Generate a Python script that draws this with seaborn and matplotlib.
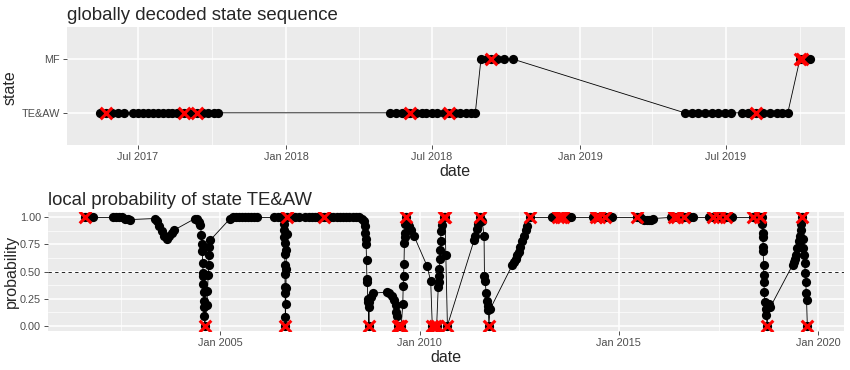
import numpy as np
import pandas as pd
import matplotlib
matplotlib.use("Agg")
import matplotlib.pyplot as plt
import matplotlib.dates as mdates
from matplotlib.ticker import FixedLocator, NullLocator
import seaborn as sns

# globally decoded state sequence (2017-2019)
state_dates = [
    "2017-05-15", "2017-05-22", "2017-05-30", "2017-06-06", "2017-06-14",
    "2017-06-25", "2017-07-01", "2017-07-07", "2017-07-13", "2017-07-20",
    "2017-07-26", "2017-08-01", "2017-08-08", "2017-08-13", "2017-08-19",
    "2017-08-27", "2017-09-03", "2017-09-12", "2017-09-20", "2017-09-26",
    "2017-10-03", "2017-10-08",
    "2018-05-10", "2018-05-17", "2018-05-25", "2018-06-01", "2018-06-04",
    "2018-06-11", "2018-06-19", "2018-06-24", "2018-07-01", "2018-07-08",
    "2018-07-16", "2018-07-22", "2018-07-30", "2018-08-05", "2018-08-13",
    "2018-08-19", "2018-08-24",
    "2018-08-31", "2018-09-07", "2018-09-13", "2018-09-20", "2018-09-28",
    "2018-10-10",
    "2019-05-11", "2019-05-20", "2019-05-27", "2019-06-05", "2019-06-14",
    "2019-06-21", "2019-06-30", "2019-07-08", "2019-07-21", "2019-07-28",
    "2019-08-08", "2019-08-16", "2019-08-25", "2019-09-02", "2019-09-09",
    "2019-09-16",
    "2019-10-01", "2019-10-04", "2019-10-08", "2019-10-14",
]
state_labels = (["TE&AW"] * 22 + ["TE&AW"] * 17 + ["MF"] * 6
                + ["TE&AW"] * 16 + ["MF"] * 4)
state_flag_dates = ["2017-05-22", "2017-08-27", "2017-09-12", "2018-06-04",
                    "2018-07-22", "2018-09-13", "2019-08-08", "2019-10-01",
                    "2019-10-04"]
state_flag_labels = ["TE&AW", "TE&AW", "TE&AW", "TE&AW", "TE&AW", "MF",
                     "TE&AW", "MF", "MF"]

# local probability of state TE&AW (decimal years)
prob_years = [
    2001.61, 2001.70, 2001.82, 2002.31, 2002.39, 2002.46, 2002.54, 2002.61,
    2002.69, 2002.74, 2003.37, 2003.41, 2003.47, 2003.53, 2003.59, 2003.66,
    2003.72, 2003.79, 2003.83, 2004.37, 2004.42, 2004.47, 2004.50, 2004.53,
    2004.54, 2004.55, 2004.56, 2004.57, 2004.575, 2004.58, 2004.585, 2004.59,
    2004.595, 2004.60, 2004.61, 2004.665, 2004.68, 2004.70, 2004.71, 2004.72,
    2004.73, 2004.75, 2005.25, 2005.33, 2005.40, 2005.48, 2005.55, 2005.63,
    2005.70, 2005.78, 2005.85, 2005.92, 2006.34, 2006.46, 2006.53, 2006.59,
    2006.60, 2006.605, 2006.61, 2006.615, 2006.62, 2006.622, 2006.625,
    2006.627, 2006.63, 2006.632, 2006.635, 2006.645, 2006.65, 2006.655,
    2006.66, 2006.665, 2006.68, 2006.88, 2006.98, 2007.14, 2007.22, 2007.30,
    2007.38, 2007.46, 2007.53, 2007.60, 2007.68, 2007.76, 2007.84, 2007.92,
    2008.00, 2008.08, 2008.16, 2008.24, 2008.32, 2008.40, 2008.48, 2008.55,
    2008.60, 2008.63, 2008.64, 2008.65, 2008.66, 2008.67, 2008.68, 2008.69,
    2008.70, 2008.71, 2008.72, 2008.73, 2008.74, 2008.77, 2008.84, 2009.19,
    2009.23, 2009.30, 2009.36, 2009.40, 2009.42, 2009.44, 2009.46, 2009.50,
    2009.54, 2009.58, 2009.59, 2009.60, 2009.61, 2009.62, 2009.63, 2009.64,
    2009.645, 2009.65, 2009.69, 2009.74, 2009.78, 2009.86, 2010.19, 2010.28,
    2010.32, 2010.38, 2010.43, 2010.47, 2010.48, 2010.49, 2010.50, 2010.51,
    2010.52, 2010.53, 2010.54, 2010.56, 2010.61, 2010.64, 2010.66, 2010.70,
    2011.37, 2011.40, 2011.44, 2011.48, 2011.53, 2011.57, 2011.62, 2011.63,
    2011.65, 2011.67, 2011.69, 2011.71, 2011.73, 2011.74, 2011.77, 2012.33,
    2012.37, 2012.41, 2012.45, 2012.49, 2012.53, 2012.57, 2012.62, 2012.66,
    2012.70, 2012.77, 2013.33, 2013.40, 2013.47, 2013.54, 2013.61, 2013.68,
    2013.75, 2013.81, 2014.34, 2014.42, 2014.50, 2014.58, 2014.66, 2014.74,
    2014.84, 2015.45, 2015.52, 2015.58, 2015.64, 2015.70, 2015.76, 2015.82,
    2015.85, 2016.31, 2016.39, 2016.47, 2016.55, 2016.63, 2016.71, 2016.79,
    2016.85, 2017.27, 2017.35, 2017.43, 2017.51, 2017.59, 2017.69, 2017.77,
    2017.85, 2018.36, 2018.42, 2018.48, 2018.53, 2018.58, 2018.60, 2018.61,
    2018.615, 2018.62, 2018.625, 2018.63, 2018.635, 2018.64, 2018.65, 2018.66,
    2018.68, 2018.70, 2018.72, 2018.76, 2018.80, 2019.36, 2019.39, 2019.42,
    2019.45, 2019.48, 2019.51, 2019.54, 2019.56, 2019.58, 2019.59, 2019.61,
    2019.63, 2019.65, 2019.66, 2019.68, 2019.69, 2019.70, 2019.71, 2019.73,
]
prob_values = [
    1.00, 1.00, 1.00, 1.00, 1.00, 1.00, 1.00, 0.99,
    0.985, 0.98, 0.99, 0.97, 0.92, 0.87, 0.83, 0.80,
    0.83, 0.86, 0.88, 0.99, 0.99, 0.96, 0.93, 0.84,
    0.75, 0.69, 0.58, 0.49, 0.46, 0.38, 0.31, 0.23,
    0.17, 0.09, 0.00, 0.19, 0.32, 0.47, 0.56, 0.65,
    0.73, 0.79, 0.99, 1.00, 1.00, 1.00, 1.00, 1.00,
    1.00, 1.00, 1.00, 1.00, 1.00, 1.00, 1.00, 0.99,
    0.94, 0.88, 0.82, 0.76, 0.66, 0.56, 0.48,
    0.36, 0.30, 0.08, 0.00, 0.20, 0.35, 0.52,
    0.70, 0.85, 1.00, 1.00, 1.00, 1.00, 1.00, 1.00,
    1.00, 1.00, 1.00, 1.00, 1.00, 1.00, 1.00, 1.00,
    1.00, 1.00, 1.00, 1.00, 1.00, 1.00, 1.00, 0.99,
    0.97, 0.92, 0.86, 0.80, 0.75, 0.61, 0.43, 0.40,
    0.25, 0.22, 0.17, 0.00, 0.22, 0.26, 0.30, 0.31,
    0.30, 0.27, 0.24, 0.19, 0.13, 0.09, 0.00, 0.00,
    0.00, 0.20, 0.37, 0.46, 0.57, 0.76, 0.82, 0.86,
    0.94, 1.00, 0.95, 0.92, 0.88, 0.83, 0.55, 0.41,
    0.00, 0.00, 0.00, 0.36, 0.40, 0.46, 0.52, 0.62,
    0.70, 0.78, 0.87, 0.93, 1.00, 1.00, 0.65, 0.00,
    0.79, 0.83, 0.89, 0.94, 1.00, 0.97, 0.83, 0.46,
    0.41, 0.30, 0.23, 0.18, 0.14, 0.00, 0.15, 0.56,
    0.59, 0.62, 0.65, 0.68, 0.73, 0.78, 0.83, 0.88,
    0.92, 1.00, 1.00, 1.00, 1.00, 1.00, 1.00, 1.00,
    1.00, 1.00, 1.00, 1.00, 1.00, 1.00, 1.00, 1.00,
    1.00, 1.00, 1.00, 0.99, 0.98, 0.98, 0.98, 0.98,
    0.99, 1.00, 1.00, 1.00, 1.00, 1.00, 1.00, 1.00,
    1.00, 1.00, 1.00, 1.00, 1.00, 1.00, 1.00, 1.00,
    1.00, 1.00, 1.00, 1.00, 1.00, 1.00, 0.94, 0.86,
    0.82, 0.73, 0.69, 0.56, 0.47, 0.40, 0.31, 0.22,
    0.15, 0.10, 0.00, 0.20, 0.17, 0.56, 0.59, 0.62,
    0.65, 0.72, 0.78, 0.83, 0.88, 0.94, 1.00, 0.80,
    0.72, 0.65, 0.58, 0.49, 0.40, 0.30, 0.24, 0.00,
]
prob_flag_years = [
    2001.61, 2004.61, 2006.635, 2006.68, 2007.60, 2008.73, 2009.46, 2009.50,
    2009.54, 2009.65, 2010.32, 2010.38, 2010.43, 2010.61, 2010.64, 2010.70,
    2011.53, 2011.74, 2012.77, 2013.47, 2013.54, 2013.61, 2014.42, 2014.50,
    2014.66, 2015.45, 2016.39, 2016.47, 2016.63, 2017.35, 2017.51, 2017.69,
    2018.36, 2018.53, 2018.72, 2019.59, 2019.73,
]
prob_flag_values = [
    1.0, 0.0, 0.0, 1.0, 1.0, 0.0, 0.0, 0.0,
    0.0, 1.0, 0.0, 0.0, 0.0, 1.0, 1.0, 0.0,
    1.0, 0.0, 1.0, 1.0, 1.0, 1.0, 1.0, 1.0,
    1.0, 1.0, 1.0, 1.0, 1.0, 1.0, 1.0, 1.0,
    1.0, 1.0, 0.0, 1.0, 0.0,
]


def dec_to_date(y):
    yr = int(y)
    start = pd.Timestamp(year=yr, month=1, day=1)
    end = pd.Timestamp(year=yr + 1, month=1, day=1)
    return start + (end - start) * (y - yr)


sns.set_theme(style="darkgrid", rc={
    "axes.facecolor": "#EBEBEB",
    "grid.color": "white",
    "axes.edgecolor": "none",
})
plt.rcParams["font.family"] = ["Liberation Sans", "DejaVu Sans"]

cats = ["TE&AW", "MF"]
state_df = pd.DataFrame({
    "date": pd.to_datetime(state_dates),
    "state": pd.Categorical(state_labels, categories=cats),
})
state_flags = pd.DataFrame({
    "date": pd.to_datetime(state_flag_dates),
    "state": pd.Categorical(state_flag_labels, categories=cats),
})
prob_df = pd.DataFrame({
    "date": [dec_to_date(y) for y in prob_years],
    "prob": prob_values,
})
prob_flags = pd.DataFrame({
    "date": [dec_to_date(y) for y in prob_flag_years],
    "prob": prob_flag_values,
})

DOT = 44
CROSS = 70

fig = plt.figure(figsize=(8.5, 3.7), dpi=100)
ax1 = fig.add_axes([0.0788, 0.6081, 0.9153, 0.3189])
ax2 = fig.add_axes([0.0565, 0.1054, 0.9365, 0.3216])

# top panel
sns.lineplot(data=state_df, x="date", y="state", sort=False, estimator=None,
             color="black", lw=0.6, ax=ax1)
sns.scatterplot(data=state_df, x="date", y="state", color="black", s=DOT,
                linewidth=0, ax=ax1, zorder=3)
sns.scatterplot(data=state_flags, x="date", y="state", marker="x", color="red",
                s=CROSS, linewidth=2.2, ax=ax1, zorder=4)
ax1.set_ylim(-0.6, 1.6)
ax1.set_yticks([0, 1], labels=cats)
ax1.yaxis.set_minor_locator(NullLocator())
ax1.set_xlim(pd.Timestamp("2017-04-04"), pd.Timestamp("2019-11-26"))
ax1.xaxis.set_major_locator(mdates.MonthLocator(bymonth=[1, 7]))
ax1.xaxis.set_minor_locator(mdates.MonthLocator(bymonth=[4, 10]))
ax1.xaxis.set_major_formatter(mdates.DateFormatter("%b %Y"))
ax1.set_title("globally decoded state sequence", loc="left", fontsize=13.4, pad=5)
ax1.set_xlabel("date", fontsize=11.5)
ax1.set_ylabel("state", fontsize=11.5)
ax1.xaxis.set_label_coords(0.499, -0.16)
ax1.yaxis.set_label_coords(-0.064, 0.49)

# bottom panel
ax2.axhline(0.5, color="black", lw=0.6, ls=(0, (4, 4)), zorder=2)
sns.lineplot(data=prob_df, x="date", y="prob", sort=False, estimator=None,
             color="black", lw=0.6, ax=ax2)
sns.scatterplot(data=prob_df, x="date", y="prob", color="black", s=DOT,
                linewidth=0, ax=ax2, zorder=3)
sns.scatterplot(data=prob_flags, x="date", y="prob", marker="x", color="red",
                s=CROSS, linewidth=2.2, ax=ax2, zorder=4)
ax2.set_ylim(-0.05, 1.05)
ax2.set_yticks([0, 0.25, 0.5, 0.75, 1.0],
               labels=["0.00", "0.25", "0.50", "0.75", "1.00"])
ax2.yaxis.set_minor_locator(FixedLocator([0.125, 0.375, 0.625, 0.875]))
ax2.set_xlim(dec_to_date(2000.68), dec_to_date(2020.65))
ax2.xaxis.set_major_locator(mdates.YearLocator(5))
ax2.xaxis.set_minor_locator(FixedLocator(mdates.date2num(
    [dec_to_date(y) for y in [2002.5, 2007.5, 2012.5, 2017.5]])))
ax2.xaxis.set_major_formatter(mdates.DateFormatter("%b %Y"))
ax2.set_title("local probability of state TE&AW", loc="left", fontsize=13.4, pad=5)
ax2.set_xlabel("date", fontsize=11.5)
ax2.set_ylabel("probability", fontsize=11.5)
ax2.xaxis.set_label_coords(0.5, -0.16)
ax2.yaxis.set_label_coords(-0.036, 0.5)

for ax in (ax1, ax2):
    for sp in ax.spines.values():
        sp.set_visible(False)
    ax.grid(which="major", color="white", lw=1.1)
    ax.grid(which="minor", color="white", lw=0.5)
    ax.tick_params(which="major", length=3, width=0.6, color="#333333",
                   labelsize=7.8, labelcolor="#4D4D4D", pad=2,
                   bottom=True, left=True)
    ax.tick_params(which="minor", length=0)
    ax.set_axisbelow(True)

fig.savefig("out.png", dpi=100)
